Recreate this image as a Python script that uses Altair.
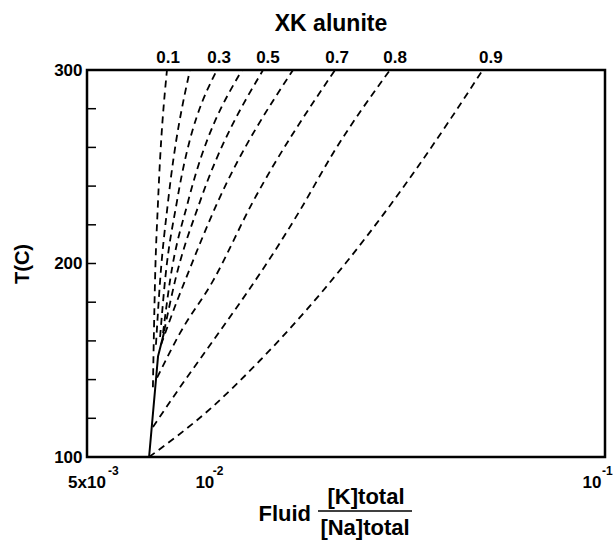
import altair as alt
import pandas as pd

# ---------------- data ----------------
XK = ["0.1", "0.2", "0.3", "0.4", "0.5", "0.6", "0.7", "0.8", "0.9"]

T_01 = [136, 191, 232, 300]
R_01 = [0.00732, 0.00741, 0.00754, 0.00794]
T_02 = [158, 191, 232, 300]
R_02 = [0.00745, 0.00763, 0.00799, 0.00907]
T_03 = [162, 191, 232, 300]
R_03 = [0.00763, 0.00785, 0.00841, 0.01060]
T_04 = [164, 191, 232, 300]
R_04 = [0.00776, 0.00808, 0.00897, 0.01226]
T_05 = [165, 191, 232, 300]
R_05 = [0.00781, 0.00832, 0.00961, 0.01384]
T_06 = [158, 181, 191, 232, 300]
R_06 = [0.00767, 0.00843, 0.00881, 0.01066, 0.01646]
T_07 = [141, 164, 191, 232, 300]
R_07 = [0.00750, 0.00856, 0.01036, 0.01306, 0.02099]
T_08 = [115.5, 136, 160, 185, 205, 227.5, 257, 300]
R_08 = [0.00732, 0.00856, 0.01036, 0.01262, 0.01466, 0.01714, 0.02075, 0.02884]
T_09 = [100, 125, 150, 175, 200, 225, 250, 275, 300]
R_09 = [0.00716, 0.01021, 0.01361, 0.01762, 0.02228, 0.02767, 0.03388, 0.04102, 0.04930]

boundary_T = [100, 152, 164.5]
boundary_R = [0.00716, 0.00754, 0.00781]

label_XK = ["0.1", "0.3", "0.5", "0.7", "0.8", "0.9"]
label_R = [0.00799, 0.01073, 0.01424, 0.02123, 0.0297, 0.0517]

y_minor = [120, 140, 160, 180, 200, 220, 240, 260, 280]
y_major = [100, 200, 300]

x_tick_vals = [0.005, 0.01, 0.1]
x_tick_base = ["5x10", "10", "10"]
x_tick_exp = ["-3", "-2", "-1"]

title_text = "XK alunite"
y_title = "T(C)"
x_title_word = "Fluid"
x_title_num = "[K]total"
x_title_den = "[Na]total"

# ---------------- build tables ----------------
Ts = [T_01, T_02, T_03, T_04, T_05, T_06, T_07, T_08, T_09]
Rs = [R_01, R_02, R_03, R_04, R_05, R_06, R_07, R_08, R_09]
rows = []
for k, t_list, r_list in zip(XK, Ts, Rs):
    for t, r in zip(t_list, r_list):
        rows.append({"XK": k, "T": t, "R": r})
lines_df = pd.DataFrame(rows)
bound_df = pd.DataFrame({"T": boundary_T, "R": boundary_R})
lab_df = pd.DataFrame({"XK": label_XK, "R": label_R, "T": [300] * len(label_R)})
minor_df = pd.DataFrame({"T": y_minor})

FONT = "Liberation Sans"
W, H = 518, 387

xscale = alt.Scale(type="log", domain=[0.005, 0.1], nice=False)
yscale = alt.Scale(domain=[100, 300], nice=False, zero=False)

dashed = alt.Chart(lines_df).mark_line(
    color="black", strokeDash=[7, 5], strokeWidth=1.8, clip=True, interpolate="monotone"
).encode(
    x=alt.X("R:Q", scale=xscale, axis=None),
    y=alt.Y("T:Q", scale=yscale, axis=alt.Axis(
        values=y_major, ticks=False, domain=False, grid=False,
        labelFont=FONT, labelFontWeight="bold", labelFontSize=17, labelColor="black",
        labelPadding=5, title=y_title, titleFont=FONT, titleFontWeight="bold",
        titleFontSize=20, titleColor="black", titlePadding=21)),
    detail="XK:N",
    order="T:Q",
)

solid = alt.Chart(bound_df).mark_line(color="black", strokeWidth=2).encode(
    x=alt.X("R:Q", scale=xscale, axis=None),
    y=alt.Y("T:Q", scale=yscale),
    order="T:Q",
)

minor_ticks = alt.Chart(minor_df).mark_rule(color="black", strokeWidth=1.5).encode(
    y=alt.Y("T:Q", scale=yscale),
    x=alt.value(0),
    x2=alt.value(9),
)

top_labels = alt.Chart(lab_df).mark_text(
    font=FONT, fontWeight="bold", fontSize=17, color="black",
    align="center", baseline="alphabetic"
).encode(
    x=alt.X("R:Q", scale=xscale, axis=None),
    y=alt.value(-7),
    text="XK:N",
)

layers = [dashed, solid, minor_ticks, top_labels]

base_dx = [0, -2, -13]
exp_dx = [21, 6, -3]
for v, b, e, bdx, edx in zip(x_tick_vals, x_tick_base, x_tick_exp, base_dx, exp_dx):
    d = pd.DataFrame({"R": [v], "b": [b], "e": [e]})
    layers.append(alt.Chart(d).mark_text(
        font=FONT, fontWeight="bold", fontSize=17, color="black",
        align="center", baseline="alphabetic", dx=bdx
    ).encode(x=alt.X("R:Q", scale=xscale, axis=None), y=alt.value(418), text="b:N"))
    layers.append(alt.Chart(d).mark_text(
        font=FONT, fontWeight="bold", fontSize=12, color="black",
        align="left", baseline="alphabetic", dx=edx
    ).encode(x=alt.X("R:Q", scale=xscale, axis=None), y=alt.value(405), text="e:N"))

annot = pd.DataFrame({"t": [title_text]})
layers.append(alt.Chart(annot).mark_text(
    font=FONT, fontWeight="bold", fontSize=23, color="black", align="center",
    baseline="alphabetic"
).encode(x=alt.value(244), y=alt.value(-39), text="t:N"))

ft = pd.DataFrame({"w": [x_title_word], "n": [x_title_num], "d": [x_title_den]})
layers.append(alt.Chart(ft).mark_text(
    font=FONT, fontWeight="bold", fontSize=22, color="black", align="right",
    baseline="alphabetic"
).encode(x=alt.value(224), y=alt.value(451), text="w:N"))
layers.append(alt.Chart(ft).mark_text(
    font=FONT, fontWeight="bold", fontSize=22, color="black", align="center",
    baseline="alphabetic"
).encode(x=alt.value(279), y=alt.value(434), text="n:N"))
layers.append(alt.Chart(ft).mark_text(
    font=FONT, fontWeight="bold", fontSize=22, color="black", align="center",
    baseline="alphabetic"
).encode(x=alt.value(278), y=alt.value(465), text="d:N"))
layers.append(alt.Chart(ft).mark_rule(color="black", strokeWidth=1.5).encode(
    x=alt.value(231), x2=alt.value(325), y=alt.value(441)))

chart = alt.layer(*layers).properties(
    width=W, height=H,
    padding={"left": 87, "top": 70, "right": 8, "bottom": 84},
    autosize=alt.AutoSizeParams(type="none"),
    background="white",
).configure_view(stroke="black", strokeWidth=2.5)

chart.save("out.html", embed_options={"renderer": "svg", "actions": False})
